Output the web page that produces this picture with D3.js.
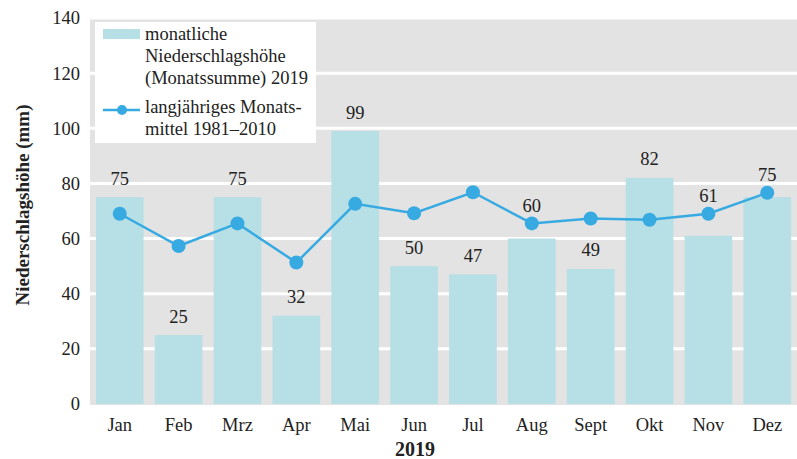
<!DOCTYPE html>
<html>
<head>
<meta charset="utf-8">
<script src="https://cdn.jsdelivr.net/npm/d3@7"></script>
<style>
  body { margin: 0; background: #fff; }
  text { font-family: "Liberation Serif", serif; fill: #222; }
</style>
</head>
<body>
<div id="chart"></div>
<script>
const months = ['Jan', 'Feb', 'Mrz', 'Apr', 'Mai', 'Jun', 'Jul', 'Aug', 'Sept', 'Okt', 'Nov', 'Dez'];
const monthly2019 = [75, 25, 75, 32, 99, 50, 47, 60, 49, 82, 61, 75];
const longTermMean = [69, 57.3, 65.5, 51.3, 72.6, 69.2, 76.8, 65.5, 67.3, 66.8, 69, 76.6];
const yTicks = [0, 20, 40, 60, 80, 100, 120, 140];

const W = 797, H = 459;
const margin = { left: 90, right: 0, top: 18, bottom: 55 };
const width = W - margin.left - margin.right;
const height = H - margin.top - margin.bottom;

const barColor = '#b6dfe6';
const lineColor = '#38aae2';
const fontFam = '"Liberation Serif", serif';

const svg = d3.select('#chart')
  .append('svg')
  .attr('width', W)
  .attr('height', H);

const g = svg.append('g')
  .attr('transform', 'translate(' + margin.left + ',' + margin.top + ')');

// scales
const x = d3.scaleBand()
  .domain(months)
  .range([0, width])
  .paddingInner(0.19)
  .paddingOuter(0.1);

const y = d3.scaleLinear()
  .domain([0, 140])
  .range([height, 0]);

const cx = m => x(m) + x.bandwidth() / 2;

// background + grid
g.append('rect')
  .attr('width', width)
  .attr('height', height + 1)
  .attr('fill', '#e3e3e3');

g.selectAll('.grid')
  .data(yTicks.filter(d => d > 0))
  .enter()
  .append('line')
    .attr('x1', 0)
    .attr('x2', width)
    .attr('y1', d => y(d))
    .attr('y2', d => y(d))
    .attr('stroke', '#fff')
    .attr('stroke-width', 3);

// bars
g.selectAll('.bar')
  .data(months)
  .enter()
  .append('rect')
    .attr('x', d => x(d))
    .attr('y', (d, i) => y(monthly2019[i]))
    .attr('width', x.bandwidth())
    .attr('height', (d, i) => height - y(monthly2019[i]))
    .attr('fill', barColor);

// long term mean line
const line = d3.line()
  .x((d, i) => cx(months[i]))
  .y(d => y(d));

g.append('path')
  .datum(longTermMean)
  .attr('d', line)
  .attr('fill', 'none')
  .attr('stroke', lineColor)
  .attr('stroke-width', 2.5);

g.selectAll('.pt')
  .data(longTermMean)
  .enter()
  .append('circle')
    .attr('cx', (d, i) => cx(months[i]))
    .attr('cy', d => y(d))
    .attr('r', 7)
    .attr('fill', lineColor);

// bar value labels, lifted above the point if they would collide with it
g.selectAll('.val')
  .data(months)
  .enter()
  .append('text')
    .attr('x', d => cx(d))
    .attr('y', (d, i) => {
      let c = y(monthly2019[i]) - 19;
      const p = y(longTermMean[i]);
      if (Math.abs(c - p) < 20) c = Math.min(c, p - 18);
      return c;
    })
    .attr('dy', '0.35em')
    .attr('text-anchor', 'middle')
    .style('font-size', '18.5px')
    .text((d, i) => monthly2019[i]);

// y axis
const yAxis = g.append('g')
  .call(d3.axisLeft(y).tickValues(yTicks).tickSize(0).tickPadding(10));
yAxis.select('.domain').remove();
yAxis.selectAll('text')
  .style('font-size', '18.5px')
  .style('font-family', fontFam)
  .attr('fill', '#222');

// x axis
const xAxis = g.append('g')
  .attr('transform', 'translate(0,' + height + ')')
  .call(d3.axisBottom(x).tickSize(0).tickPadding(14));
xAxis.select('.domain').remove();
xAxis.selectAll('text')
  .style('font-size', '18.5px')
  .style('font-family', fontFam)
  .attr('fill', '#222');

// axis titles
svg.append('text')
  .attr('transform', 'translate(29,205) rotate(-90)')
  .attr('text-anchor', 'middle')
  .style('font-size', '19px')
  .style('font-weight', 'bold')
  .text('Niederschlagshöhe (mm)');

svg.append('text')
  .attr('x', 415)
  .attr('y', 456)
  .attr('text-anchor', 'middle')
  .style('font-size', '20px')
  .style('font-weight', 'bold')
  .text('2019');

// legend
const legend = svg.append('g')
  .attr('transform', 'translate(95,22)');

legend.append('rect')
  .attr('width', 221)
  .attr('height', 121)
  .attr('fill', '#fff');

legend.append('rect')
  .attr('x', 8)
  .attr('y', 7)
  .attr('width', 37)
  .attr('height', 10)
  .attr('fill', barColor);

legend.append('line')
  .attr('x1', 8).attr('x2', 45)
  .attr('y1', 88).attr('y2', 88)
  .attr('stroke', lineColor)
  .attr('stroke-width', 2.5);

legend.append('circle')
  .attr('cx', 27).attr('cy', 88).attr('r', 5)
  .attr('fill', lineColor);

const legendLines = [
  ['monatliche', 18],
  ['Niederschlagshöhe', 40],
  ['(Monatssumme) 2019', 62],
  ['langjähriges Monats-', 91],
  ['mittel 1981–2010', 113]
];

legend.selectAll('.lt')
  .data(legendLines)
  .enter()
  .append('text')
    .attr('x', 50)
    .attr('y', d => d[1])
    .style('font-size', '18.5px')
    .text(d => d[0]);
</script>
</body>
</html>
